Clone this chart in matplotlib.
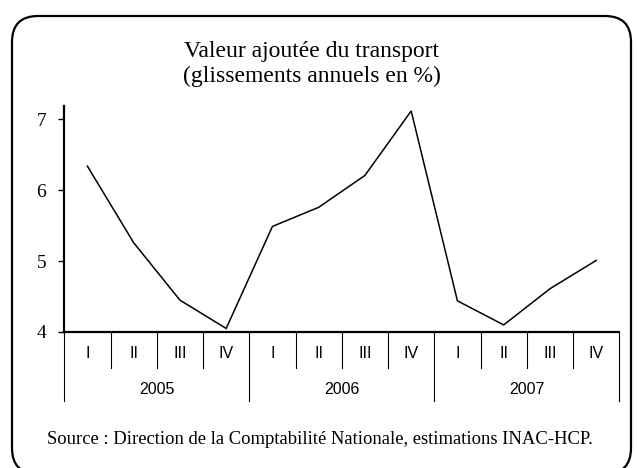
import matplotlib
matplotlib.use("Agg")
import matplotlib.pyplot as plt
from matplotlib.patches import FancyBboxPatch
import matplotlib.transforms as mtransforms

# Data
years = ["2005", "2006", "2007"]
quarters = ["I", "II", "III", "IV"]
values = [6.34, 5.26, 4.45, 4.05, 5.49, 5.76, 6.21, 7.12, 4.44, 4.10, 4.61, 5.01]
yticks = [4, 5, 6, 7]
title = "Valeur ajoutée du transport\n(glissements annuels en %)"
source = "Source : Direction de la Comptabilité Nationale, estimations INAC-HCP."

W, H = 637, 468
fig = plt.figure(figsize=(W / 100, H / 100), dpi=100)
fig.patch.set_facecolor("white")

# Rounded frame (display/pixel coordinates, origin bottom-left)
frame = FancyBboxPatch((12, H - 474), 631 - 12, 474 - 16,
                       boxstyle="round,pad=0,rounding_size=26",
                       transform=mtransforms.IdentityTransform(), fill=False,
                       edgecolor="black", linewidth=1.6)
fig.patches.append(frame)

left, right, top, bottom = 64.3, 619.3, 106, 332
ax = fig.add_axes([left / W, 1 - bottom / H, (right - left) / W, (bottom - top) / H])
n = len(values)
x = list(range(n))
ax.plot(x, values, color="black", linewidth=1.1, solid_joinstyle="miter")
ax.set_xlim(-0.5, n - 0.5)
ax.set_ylim(4, 7.19)

for s in ["top", "right"]:
    ax.spines[s].set_visible(False)
ax.spines["left"].set_linewidth(1.6)
ax.spines["bottom"].set_linewidth(1.6)
ax.set_yticks(yticks)
ax.set_yticklabels([str(v) for v in yticks], fontfamily="Liberation Serif", fontsize=14)
ax.tick_params(axis="y", length=4, width=1, pad=9)
ax.set_xticks([])

trans = mtransforms.blended_transform_factory(ax.transData, ax.transAxes)
ah = bottom - top
y_q = -(368 - bottom) / ah
y_y = -(401 - bottom) / ah
for k in range(n + 1):
    ylow = y_y if k % 4 == 0 else y_q
    ax.plot([k - 0.5, k - 0.5], [0, ylow], transform=trans, color="black",
            linewidth=0.8, clip_on=False)
for i in range(n):
    ax.text(i, -(354 - bottom) / ah, quarters[i % 4], transform=trans, ha="center",
            va="center", fontfamily="Liberation Sans", fontsize=11.5)
for j, yr in enumerate(years):
    ax.text(4 * j + 1.5, -(389 - bottom) / ah, yr, transform=trans, ha="center",
            va="center", fontfamily="Liberation Sans", fontsize=11.5)

fig.text(312 / W, 1 - 64 / H, title, ha="center", va="center",
         fontfamily="Liberation Serif", fontsize=17, linespacing=1.29)
fig.text(320 / W, 1 - 440 / H, source, ha="center", va="center",
         fontfamily="Liberation Serif", fontsize=13.4)

fig.savefig("out.png", dpi=100)
